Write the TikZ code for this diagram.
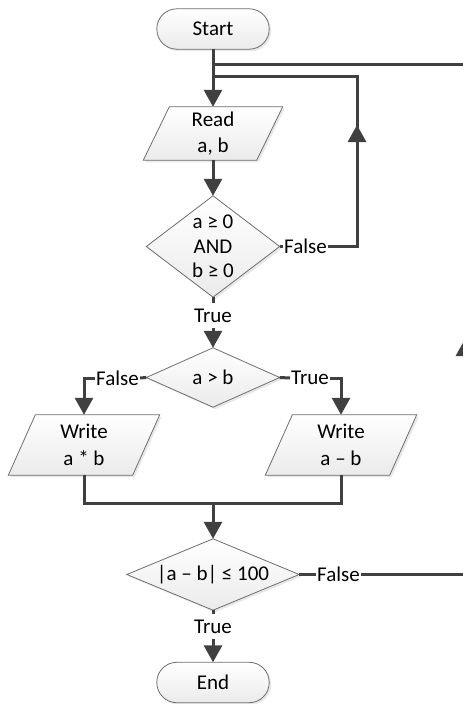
\documentclass[tikz,border=0pt]{standalone}
\usepackage{fontspec}
\setmainfont{Carlito}
\usetikzlibrary{arrows.meta,shadows,backgrounds}

\definecolor{lc}{HTML}{404040}
\definecolor{bc}{HTML}{6E6E6E}

\tikzset{
  conn/.style={draw=lc, line width=3pt},
  arr/.style={conn, -{Triangle[width=18pt,length=17pt]}},
  shp/.style={draw=bc, line width=0.8pt, top color=white, bottom color=gray!16,
    drop shadow={opacity=0.18, shadow xshift=2pt, shadow yshift=-2pt}},
  txt/.style={inner sep=0pt, align=center, font=\fontsize{21}{26.5}\selectfont},
  lbl/.style={inner xsep=1pt, inner ysep=5pt, font=\fontsize{21}{24}\selectfont},
}

\begin{document}
\begin{tikzpicture}[x=1pt,y=-1pt]
\useasboundingbox (0,0) rectangle (463,704);

% shapes (text holders)
\node[txt, minimum width=112pt, minimum height=40pt] (S) at (213,29) {Start};
\node[txt, minimum width=113pt, minimum height=53pt] (R) at (213,133.5) {Read\\a, b};
\node[txt, minimum width=133pt, minimum height=101pt, font=\fontsize{21}{24.5}\selectfont] (D1) at (213,246.5) {a ≥ 0\\AND\\b ≥ 0};
\node[txt, minimum width=133pt, minimum height=59pt] (D2) at (213,377.5) {a > b};
\node[txt, minimum width=124pt, minimum height=60pt] (W1) at (84,445) {Write\\a * b};
\node[txt, minimum width=124pt, minimum height=60pt] (W2) at (341,445) {Write\\a – b};
\node[txt, minimum width=172pt, minimum height=71pt] (D3) at (213,574.5) {|a – b| ≤ 100};
\node[txt, minimum width=112pt, minimum height=40pt] (E) at (213,682.5) {End};

% labels
\node[lbl, anchor=west] (F1) at (283,246.5) {False};
\node[lbl] (T1) at (213,315.5) {True};
\node[lbl, anchor=east] (F2) at (140,378) {False};
\node[lbl, anchor=west] (T2) at (290,378) {True};
\node[lbl, anchor=west] (F3) at (316,574.5) {False};
\node[lbl] (T3) at (213,626.5) {True};

% helper coordinates
\coordinate (J1) at (213,64);
\coordinate (J2) at (213,76);
\coordinate (C1) at (357,246.5);
\coordinate (C2) at (357,76);
\coordinate (C1a) at (357,125);
\coordinate (R1) at (465,574.5);
\coordinate (R2) at (465,64);
\coordinate (R1a) at (465,339);
\coordinate (M) at (213,503);

% connectors
\draw[arr] (S) -- (R);
\draw[arr] (R) -- (D1);
\draw[conn] (D1.east) -- (F1.west);
\draw[conn] (F1.east) -- (C1) -- (C2) -- (J2);
\draw[arr] (C1) -- (C1a);
\draw[conn] (D1.south) -- (T1.north);
\draw[arr] (T1.south) -- (D2.north);
\draw[conn] (D2.west) -- (F2.east);
\draw[arr] (F2.west) -| (W1.north);
\draw[conn] (D2.east) -- (T2.west);
\draw[arr] (T2.east) -| (W2.north);
\draw[conn] (W1.south) |- (M) -| (W2.south);
\draw[arr] (M) -- (D3.north);
\draw[conn] (D3.east) -- (F3.west);
\draw[conn] (F3.east) -- (R1) -- (R2) -- (J1);
\draw[arr] (R1) -- (R1a);
\draw[conn] (D3.south) -- (T3.north);
\draw[arr] (T3.south) -- (E.north);

% visible outlines
\begin{scope}[on background layer]
  \path[shp, rounded corners=20pt] (S.south west) rectangle (S.north east);
  \path[shp, rounded corners=20pt] (E.south west) rectangle (E.north east);
  \path[shp] ([xshift=-13pt]R.south west) -- ([xshift=-13pt]R.south east)
             -- ([xshift=13pt]R.north east) -- ([xshift=13pt]R.north west) -- cycle;
  \path[shp] ([xshift=-13.5pt]W1.south west) -- ([xshift=-13.5pt]W1.south east)
             -- ([xshift=13.5pt]W1.north east) -- ([xshift=13.5pt]W1.north west) -- cycle;
  \path[shp] ([xshift=-13.5pt]W2.south west) -- ([xshift=-13.5pt]W2.south east)
             -- ([xshift=13.5pt]W2.north east) -- ([xshift=13.5pt]W2.north west) -- cycle;
  \path[shp] (D1.north) -- (D1.east) -- (D1.south) -- (D1.west) -- cycle;
  \path[shp] (D2.north) -- (D2.east) -- (D2.south) -- (D2.west) -- cycle;
  \path[shp] (D3.north) -- (D3.east) -- (D3.south) -- (D3.west) -- cycle;
\end{scope}
\end{tikzpicture}
\end{document}
